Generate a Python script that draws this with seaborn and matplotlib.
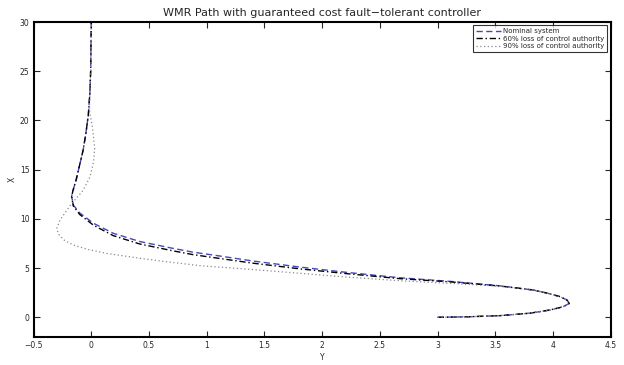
import numpy as np
import pandas as pd
import matplotlib
matplotlib.use("Agg")
import matplotlib.pyplot as plt
import seaborn as sns

# ---- data (Y horizontal, X vertical) ----
nominal_Y = [3.00, 3.25, 3.54, 3.80, 3.97, 4.08, 4.14, 4.12, 4.06, 3.95, 3.83, 3.54, 3.11, 2.67, 2.20,
             1.81, 1.40, 1.10, 0.88, 0.71, 0.42, 0.19, 0.02, -0.10, -0.155, -0.17, -0.16, -0.13, -0.10,
             -0.07, -0.045, -0.025, -0.012, -0.005, 0.0]
nominal_X = [0.00, 0.05, 0.17, 0.42, 0.74, 1.05, 1.40, 1.75, 2.10, 2.45, 2.77, 3.20, 3.65, 4.02, 4.58,
             5.10, 5.72, 6.25, 6.62, 7.00, 7.70, 8.54, 9.55, 10.6, 11.4, 12.3, 12.8, 14.0, 15.5,
             17.0, 18.8, 20.6, 22.8, 25.0, 30.0]

loss60_Y = nominal_Y
loss60_X = [0.00, 0.05, 0.17, 0.42, 0.74, 1.05, 1.40, 1.75, 2.10, 2.45, 2.77, 3.18, 3.60, 3.93, 4.45,
            4.92, 5.50, 6.00, 6.37, 6.75, 7.45, 8.30, 9.35, 10.45, 11.3, 12.25, 12.8, 14.0, 15.5,
            17.0, 18.8, 20.6, 22.8, 25.0, 30.0]

loss90_Y = [3.00, 3.25, 3.54, 3.80, 3.97, 4.08, 4.14, 4.12, 4.06, 3.95, 3.83, 3.54, 3.11, 2.67, 2.20,
            1.81, 1.40, 0.94, 0.65, 0.42, 0.13, -0.03, -0.155, -0.23, -0.28, -0.30, -0.27, -0.18,
            -0.07, -0.01, 0.02, 0.03, 0.01, -0.015, -0.012, -0.005, 0.0]
loss90_X = [0.00, 0.05, 0.17, 0.42, 0.74, 1.05, 1.40, 1.75, 2.10, 2.45, 2.77, 3.15, 3.45, 3.72, 4.10,
            4.47, 4.85, 5.25, 5.65, 6.00, 6.50, 6.90, 7.35, 7.80, 8.40, 9.00, 9.90, 11.4,
            12.9, 14.3, 15.8, 17.2, 19.3, 21.0, 22.8, 25.0, 30.0]

series_names = ["Nominal system", "60% loss of control authority", "90% loss of control authority"]
x_ticks = [-0.5, 0, 0.5, 1, 1.5, 2, 2.5, 3, 3.5, 4, 4.5]
y_ticks = [0, 5, 10, 15, 20, 25, 30]

sns.set_style("ticks")
plt.rcParams["font.family"] = ["DejaVu Sans"]

fig = plt.figure(figsize=(6.24, 3.65), dpi=100)
ax = fig.add_axes([0.0537, 0.0767, 0.979 - 0.0537, 0.9397 - 0.0767])

frames = []
for name, ys, xs in zip(series_names, [nominal_Y, loss60_Y, loss90_Y], [nominal_X, loss60_X, loss90_X]):
    frames.append(pd.DataFrame({"Y": ys, "X": xs, "series": name, "order": range(len(xs))}))
df = pd.concat(frames, ignore_index=True)

styles = {
    series_names[0]: dict(color="#4646c0", dashes=(4.5, 2.5), lw=1.0),
    series_names[1]: dict(color="black", dashes=(4.5, 2, 1, 2), lw=1.0),
    series_names[2]: dict(color="#8a8a8a", dashes=(1, 2), lw=0.9),
}
for name in series_names:
    sub = df[df["series"] == name]
    st = styles[name]
    sns.lineplot(data=sub, x="Y", y="X", sort=False, estimator=None, ax=ax,
                 color=st["color"], linewidth=st["lw"], label=name, dashes=False)
    ax.lines[-1].set_dashes(st["dashes"])

ax.set_xlim(-0.5, 4.5)
ax.set_ylim(-2, 30)
ax.set_xticks(x_ticks)
ax.set_xticklabels(["\u22120.5", "0", "0.5", "1", "1.5", "2", "2.5", "3", "3.5", "4", "4.5"])
ax.set_yticks(y_ticks)
ax.tick_params(direction="in", length=4, width=0.8, labelsize=5.5, top=True, right=True, pad=3)
for sp in ax.spines.values():
    sp.set_visible(True)
    sp.set_linewidth(1.5)
    sp.set_color("black")

ax.set_xlabel("Y", fontsize=5.5, labelpad=2)
ax.set_ylabel("X", fontsize=5.5, labelpad=2)
ax.set_title("WMR Path with guaranteed cost fault\u2212tolerant controller", fontsize=8, pad=4)

leg = ax.legend(loc="upper right", fontsize=5, frameon=True, fancybox=False, handlelength=3.6,
                borderaxespad=0.5, borderpad=0.4, labelspacing=0.2, handletextpad=0.4)
leg.get_frame().set_edgecolor("black")
leg.get_frame().set_linewidth(0.8)
for h, name in zip(leg.get_lines(), series_names):
    h.set_dashes(styles[name]["dashes"])

fig.savefig("out.png", dpi=100)
